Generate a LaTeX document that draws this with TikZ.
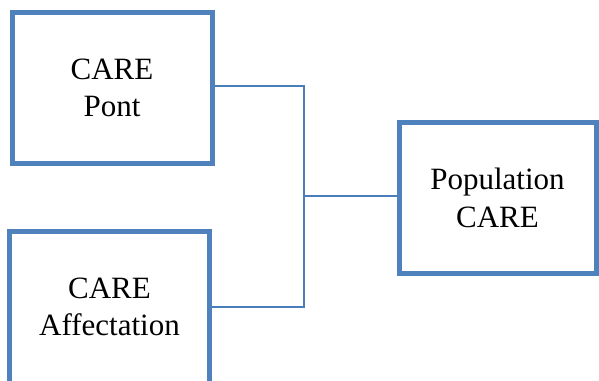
\documentclass[tikz,border=0pt]{standalone}
\usepackage{fontspec}
\setmainfont{Liberation Serif}
\newfontfamily\labelfont{Liberation Serif}
\definecolor{boxblue}{HTML}{4F81BD}
\definecolor{linkblue}{HTML}{4A7EBB}
\tikzset{
  unit/.style={draw=boxblue, line width=5pt, fill=white, align=center,
    font=\labelfont\fontsize{31}{37.5}\selectfont, inner sep=0pt},
  link/.style={draw=linkblue, line width=1.8pt}
}
\begin{document}
\begin{tikzpicture}[x=1pt, y=-1pt]
  \clip (0,0) rectangle (599,380);
  \fill[white] (0,0) rectangle (599,380);
  % source boxes on the left, result box on the right
  \node[unit, minimum width=200pt, minimum height=151pt] (pont) at (112,88) {CARE\\Pont};
  \node[unit, minimum width=200pt, minimum height=152pt] (aff) at (109.5,307) {CARE\\Affectation};
  \node[unit, minimum width=197pt, minimum height=150.5pt] (pop) at (497.5,197.75) {Population\\CARE};
  % bracket joining the two sources and feeding the result
  \coordinate (j) at (304,195.8);
  \draw[link] ([yshift=2pt]pont.east) -| (j) |- (aff.east);
  \draw[link] (j) -- (j -| pop.west);
\end{tikzpicture}
\end{document}
